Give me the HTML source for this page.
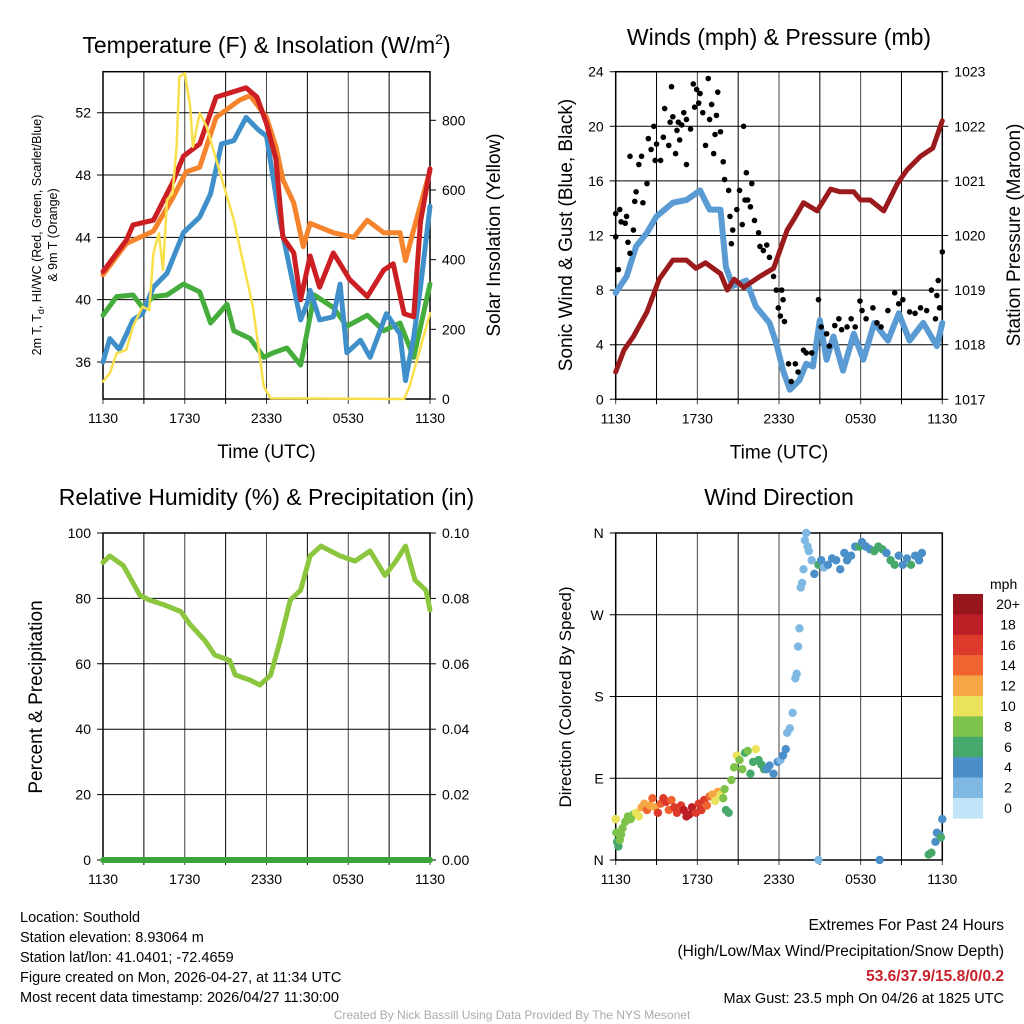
<!DOCTYPE html>
<html><head><meta charset="utf-8"><style>
body{margin:0;background:#fff}
svg{display:block;font-family:"Liberation Sans",sans-serif}
</style></head><body>
<svg id="s" width="1024" height="1024" viewBox="0 0 1024 1024" xmlns="http://www.w3.org/2000/svg">
<rect width="1024" height="1024" fill="#fff"/>
<g id="g"></g>
<g font-size="14.5" fill="#000">
<text x="20" y="922">Location: Southold</text>
<text x="20" y="942">Station elevation: 8.93064 m</text>
<text x="20" y="962">Station lat/lon: 41.0401; -72.4659</text>
<text x="20" y="982">Figure created on Mon, 2026-04-27, at 11:34 UTC</text>
<text x="20" y="1002">Most recent data timestamp: 2026/04/27 11:30:00</text>
</g>
<g font-size="15.5" text-anchor="end">
<text x="1004" y="930">Extremes For Past 24 Hours</text>
<text x="1004" y="956">(High/Low/Max Wind/Precipitation/Snow Depth)</text>
<text x="1004" y="981" fill="#c8202a" font-weight="bold">53.6/37.9/15.8/0/0.2</text>
<text x="1004" y="1003" font-size="14.5">Max Gust: 23.5 mph On 04/26 at 1825 UTC</text>
</g>
<text x="512" y="1019" font-size="12" fill="#aaa" text-anchor="middle">Created By Nick Bassill Using Data Provided By The NYS Mesonet</text>
</svg>
<script>
// ---- Temperature panel data (hours since 1130 UTC) ----
const tRedH=[0,1.7,2.2,3.7,5.1,5.9,7.1,8.3,10.5,11.3,12,12.7,13.2,14,14.5,15.2,15.9,16.9,17.4,18.1,19.4,20.6,21.3,22.1,22.8,23.3,24];
const tRed=[41.8,43.8,44.8,45.1,47.5,49.2,50,53,53.6,53,51.3,49,44,43,40,42.8,40.8,43,42.3,41.3,40.2,41.9,42.3,39.1,38.9,45,48.4];
const tOrH=[0,1.7,3.7,5.1,6.1,7.1,8.3,10,10.8,12,12.7,13.2,14,14.7,15.2,16.9,18.4,19.4,20.6,21.8,22.2,22.8,24];
const tOr=[41.6,43.6,44.4,46.5,48.2,48.5,51.7,52.8,53.1,51.7,49.8,47.7,46.2,43.4,44.9,44.3,44,45.1,44.3,44.3,42.5,44.5,48.3];
const tBlH=[0,0.5,1.2,2.2,2.9,3.7,4.7,5.9,7.1,7.9,8.7,9.6,10.5,11.4,12,13,14.5,15,15.2,15.9,16.9,17.4,17.9,18.9,19.6,20.8,21.8,22.2,22.8,23.3,24];
const tBl=[36,37.5,36.8,38.7,39.1,40.8,41.7,44.3,45.3,46.8,50,50.2,51.7,50.9,50.5,45,38.7,39.8,40.6,38.7,38.9,41,36.6,37.4,36.3,39.1,37.8,34.8,37.6,40.8,46];
const tGrH=[0,1,2.2,2.9,3.7,4.7,5.9,7.1,7.9,9.1,9.6,10.8,11.8,12.5,13.5,14.5,15,15.5,16.9,17.9,19.4,20.6,21.8,22.8,24];
const tGr=[39,40.2,40.3,39.5,40.2,40.3,41,40.5,38.5,39.7,38,37.5,36.3,36.6,36.9,35.8,38,40.3,39.5,38.3,39,38,38.5,36.3,41];
const solH=[0,0.5,1,1.7,2.2,2.9,3.4,3.7,4.1,4.4,4.7,5.1,5.4,5.6,6,6.4,6.6,7.1,7.6,9.6,11,11.8,12.3,22.1,22.5,24];
const solW=[50,74,131,141,208,265,255,418,476,370,572,590,724,925,935,839,724,820,782,514,265,36,2,0,36,246];
// ---- Wind panel ----
const wsH=[0,0.8,1.5,2.3,3,4.2,5.2,6.2,6.9,7.7,8.1,8.6,9.6,10.3,11.3,11.8,12.3,12.8,13.5,14,14.5,15,15.5,16,16.7,17.5,18.2,19,20,20.8,21.6,22.6,23.6,24];
const wsV=[7.8,9,11.2,12.2,13.4,14.4,14.6,15.3,13.9,13.9,9.7,8.3,8.7,6.8,5.6,4.1,2.1,0.7,1.4,2.6,2.4,5.8,2.9,4.6,2.1,4.8,2.9,5.6,4.3,6.3,4.3,5.6,3.9,5.6];
const gH=[0,0,0.2,0.3,0.4,0.7,0.8,0.9,1.05,1.05,1.3,1.4,1.5,1.7,1.9,2,2.3,2.4,2.6,2.8,2.9,3,3.3,3.5,3.6,3.9,4,4.1,4.2,4.4,4.5,4.6,4.7,4.85,5,5.2,5.2,5.5,5.7,5.8,5.95,6.1,6.2,6.4,6.6,6.8,6.9,7.05,7.2,7.3,7.4,7.5,7.7,7.9,8,8.3,8.4,8.5,8.6,8.9,9.1,9.3,9.4,9.5,9.6,9.7,9.9,10,10.2,10.5,10.6,10.85,11.1,11.3,11.6,11.8,11.95,12.1,12.2,12.3,12.4,12.7,12.9,13.2,13.4,13.8,14,14.4,14.9,15.1,15.5,15.7,16.1,16.4,16.6,17,17.3,17.6,17.95,18.1,18.4,18.9,19.2,19.5,20,20.5,20.8,21.1,21.6,22,22.4,22.85,23.2,23.5,23.6,23.7,23.8,24];
const gV=[13.6,11.9,9.5,13.9,13,12.9,13.4,11.5,10.7,17.8,12.4,14.5,15.2,17.2,17.8,14.4,15.8,19.1,18.3,20,17.5,18.7,17.5,19.2,21.3,18.6,20.3,22.9,20.7,18,19.7,20.3,19,20.1,21,20.5,17.2,19.8,23.1,21.4,22.7,21.7,22.4,21,18.6,23.5,20.5,21.6,18,19.4,20.8,22.5,19.6,17.4,16.1,15.3,13.4,11.4,12.4,13.9,15.3,12.8,20,14.6,16.6,14.6,14.1,15.8,13.1,12.2,11.2,10.9,11.3,10.4,9,8,6.7,6.1,8,7.3,5.7,2.6,1.3,2.6,2,3.6,3.4,3.4,7.3,5.3,4.8,3.9,5.4,5.9,5.1,5.3,5.9,5.3,7.2,6.5,5.9,6.7,5.6,5.3,6.5,7.8,7,7.3,6.4,6.3,6.7,6.5,8,5.9,7.6,8.7,6.7,10.8];
const pH=[0,0.6,1.3,2.3,3.2,4.2,5.2,5.9,6.6,7.7,8.2,8.7,9.4,10.6,11.6,12.6,13.1,13.8,14.8,15.8,16.5,17.5,18,18.7,19.7,20.7,21.4,22.4,23.3,24];
const pMb=[1017.5,1017.9,1018.15,1018.6,1019.2,1019.55,1019.55,1019.4,1019.5,1019.3,1019.0,1019.2,1019.05,1019.25,1019.4,1020.1,1020.3,1020.6,1020.45,1020.85,1020.8,1020.8,1020.65,1020.65,1020.45,1020.95,1021.2,1021.45,1021.6,1022.1];
// ---- RH panel ----
const rhH=[0,0.5,1.5,2.7,3.4,4.5,5.7,6.4,7.5,8.2,9.3,9.7,10.8,11.5,12.3,13,13.75,14.5,15.2,16,17.4,18.5,19.6,20.7,21.5,22.2,22.9,23.7,24];
const rhV=[91,93,90,81,79.5,78,76,72,67,62.7,61,56.6,55,53.5,56.5,67,79.5,82.5,93,96,93,91.4,94.5,87,91.4,96,85.6,82.5,76.5];
// ---- Wind direction panel ----
const dH=[0,0.05,0.1,0.2,0.3,0.4,0.5,0.7,0.9,1.1,1.3,1.5,1.7,1.9,2.1,2.3,2.5,2.7,2.9,3.1,3.3,3.5,3.7,3.9,4.1,4.3,4.5,4.8,5.0,5.2,5.4,5.6,5.9,6.1,6.3,6.5,6.7,6.9,7.1,7.3,7.5,7.7,7.9,8.0,8.1,8.3,8.5,8.7,8.9,9.1,9.3,9.5,9.7,9.9,10.1,10.3,10.5,10.7,10.9,11.1,11.3,11.6,11.9,12.1,12.3,12.5,12.6,12.8,13.0,13.2,13.3,13.4,13.5,13.6,13.7,13.8,13.9,14.0,14.1,14.2,14.4,14.6,14.9,15.1,15.3,15.6,15.9,16.2,16.5,16.8,17.0,17.3,17.6,17.9,18.1,18.4,18.7,19.0,19.3,19.6,19.9,20.2,20.5,20.8,21.1,21.4,21.7,22,22.3,22.5,14.9,19.4,23.0,23.2,23.5,23.6,23.8,24,23.9];
const dDir=[45,30,20,15,22,28,35,42,48,45,50,52,48,58,62,55,60,68,58,52,62,68,64,55,66,58,52,60,55,48,50,58,52,62,55,66,60,70,72,65,75,72,68,78,55,52,88,102,115,110,100,118,120,95,108,122,110,105,100,100,104,95,108,110,115,122,140,145,162,200,205,235,255,300,305,320,352,360,345,340,330,315,325,330,322,325,332,330,320,338,330,335,345,345,350,345,342,340,345,342,338,330,325,335,325,332,325,335,330,338,0,0,6,8,20,30,28,45,25];
const dSpd=[10,7,6,6,8,8,8,8,8,7,8,10,10,12,12,13,12,14,11,16,14,15,15,13,14,15,15,16,17,18,18,17,16,15,16,15,14,14,12,10,11,10,8,8,6,6,7,8,10,8,7,6,7,6,6,10,6,5,6,4,4,4,4,2,4,4,2,2,1,2,2,1,1,1,1,1,1,1,2,2,2,4,6,4,2,4,4,4,4,4,4,4,4,6,4,4,4,6,6,6,4,6,6,4,4,4,6,4,4,4,2,4,6,6,4,4,3,4,6];
const cbLabels=['20+','18','16','14','12','10','8','6','4','2','0'];
const cbColors=['#97161b','#bd1e26','#dc3a2b','#ef6430','#f6a645','#e9e25a','#7dc24a','#46a86a','#4a8fc7','#7fb8e2','#bfe4f8'];

const NS='http://www.w3.org/2000/svg';
const G=document.getElementById('g');
function el(tag,attrs,parent,text){const e=document.createElementNS(NS,tag);for(const k in attrs)e.setAttribute(k,attrs[k]);if(text!==undefined)e.textContent=text;(parent||G).appendChild(e);return e;}
function lin(d0,d1,r0,r1){return v=>r0+(v-d0)*(r1-r0)/(d1-d0);}
const xLab=['1130','1730','2330','0530','1130'];

function frame(P,title,ylab,yTicks,yFmt,ry,rTicks,rFmt,rlab,xtitle){
  const g=el('g',{});
  
  
  for(let k=0;k<=8;k++){const x=P.x0+k*(P.x1-P.x0)/8;
    const l=el('line',{x1:x,x2:x,y1:P.y0,y2:P.y1+5,stroke:k%2?'#000':'#444','stroke-width':1},g);
    }
  yTicks.forEach(v=>{const y=P.y(v);
    const l=el('line',{x1:P.x0-6,x2:P.x1,y1:y,y2:y,stroke:'#000','stroke-width':1},g);
    
    const t=el('text',{x:P.x0-12,y:y+5,'font-size':14,'text-anchor':'end'},g,yFmt(v));
    });
  if(rTicks){rTicks.forEach(v=>{const y=ry(v);
    el('line',{x1:P.x1,x2:P.x1+6,y1:y,y2:y,stroke:'#000'},g);
    const t=el('text',{x:P.x1+12,y:y+5,'font-size':14},g,rFmt(v));
    });}
  el('rect',{x:P.x0,y:P.y0,width:P.x1-P.x0,height:P.y1-P.y0,fill:'none',stroke:'#000','stroke-width':1.5},g);
  xLab.forEach((s,i)=>{const t=el('text',{x:P.x0+i*(P.x1-P.x0)/4,y:P.y1+24,'font-size':14,'text-anchor':'middle'},g,s);
    });
  const tt=el('text',{x:(P.x0+P.x1)/2,y:P.ty,'font-size':23,'text-anchor':'middle'},g);tt.innerHTML=title;
  
  if(xtitle){const xt=el('text',{x:(P.x0+P.x1)/2,y:P.y1+59,'font-size':19,'text-anchor':'middle'},g,xtitle);
    }
  return g;
}
function path(xs,ys,fx,fy,color,w,name){let d='';xs.forEach((h,i)=>{d+=(i?'L':'M')+fx(h).toFixed(1)+','+fy(ys[i]).toFixed(1);});
  const p=el('path',{d:d,fill:'none',stroke:color,'stroke-width':w,'stroke-linejoin':'round','stroke-linecap':'round'});
  return p;}

// Panel 1
const P1={x0:103,x1:430,y0:71.7,y1:399,ty:53,name:'temperature-panel'};
P1.y=lin(36,52,362,112.7);const P1r=lin(0,800,399,120.3);const X1=lin(0,24,P1.x0,P1.x1);
frame(P1,'Temperature (F) &amp; Insolation (W/m<tspan dy="-9" font-size="14">2</tspan><tspan dy="9">)</tspan>',null,[36,40,44,48,52],v=>v,P1r,[0,200,400,600,800],v=>v,null,'Time (UTC)');
let t=el('text',{transform:'translate(41,235) rotate(-90)','font-size':12.5,'text-anchor':'middle'});t.innerHTML='2m T, T<tspan dy="3" font-size="9">d</tspan><tspan dy="-3">, HI/WC (Red, Green, Scarlet/Blue)</tspan>';

t=el('text',{transform:'translate(57,235) rotate(-90)','font-size':12.5,'text-anchor':'middle'},G,'& 9m T (Orange)');

t=el('text',{transform:'translate(500,235) rotate(-90)','font-size':19,'text-anchor':'middle'},G,'Solar Insolation (Yellow)');

path(tGrH,tGr,X1,P1.y,'#45ad3c',5,'dewpoint-line');
path(tBlH,tBl,X1,P1.y,'#3f8fca',5,'wind-chill-line');
path(tOrH,tOr,X1,P1.y,'#f5842c',5,'temp-9m-line');
path(tRedH,tRed,X1,P1.y,'#cc1f24',5,'temp-2m-line');
path(solH,solW,X1,P1r,'#f9e04b',2.5,'solar-line');

// Panel 2
const P2={x0:615.7,x1:942.3,y0:71.7,y1:399.3,ty:45,name:'wind-panel'};
P2.y=lin(0,24,399.3,71.7);const P2r=lin(1017,1023,399.3,71.7);const X2=lin(0,24,P2.x0,P2.x1);
frame(P2,'Winds (mph) &amp; Pressure (mb)',null,[0,4,8,12,16,20,24],v=>v,P2r,[1017,1018,1019,1020,1021,1022,1023],v=>v,null,'Time (UTC)');
t=el('text',{transform:'translate(572,235) rotate(-90)','font-size':19,'text-anchor':'middle'},G,'Sonic Wind & Gust (Blue, Black)');

t=el('text',{transform:'translate(1020,235) rotate(-90)','font-size':19,'text-anchor':'middle'},G,'Station Pressure (Maroon)');

path(wsH,wsV,X2,P2.y,'#5a9bd3',6,'sustained-wind-line');
gH.forEach((h,i)=>{const c=el('circle',{cx:X2(h),cy:P2.y(gV[i]),r:2.8,fill:'#000'});
  });
path(pH,pMb,X2,P2r,'#9b1a1c',5,'pressure-line');

// Panel 3
const P3={x0:103,x1:430,y0:533,y1:860,ty:505,name:'humidity-panel'};
P3.y=lin(0,100,860,533);const P3r=lin(0,0.1,860,533);const X3=lin(0,24,P3.x0,P3.x1);
frame(P3,'Relative Humidity (%) &amp; Precipitation (in)',null,[0,20,40,60,80,100],v=>v,P3r,[0,0.02,0.04,0.06,0.08,0.1],v=>v.toFixed(2),null,null);
t=el('text',{transform:'translate(42,697) rotate(-90)','font-size':19,'text-anchor':'middle'},G,'Percent & Precipitation');

path([0,24],[0,0],X3,P3r,'#3aa63a',6,'precip-line');
path(rhH,rhV,X3,P3.y,'#8cc63f',5,'rh-line');

// Panel 4
const P4={x0:615.7,x1:942.3,y0:533,y1:860,ty:505,name:'wind-direction-panel'};
P4.y=lin(0,360,860,533);const X4=lin(0,24,P4.x0,P4.x1);
frame(P4,'Wind Direction',null,[0,90,180,270,360],v=>['N','E','S','W','N'][v/90],null,null,null,null,null);
t=el('text',{transform:'translate(571,697) rotate(-90)','font-size':17,'text-anchor':'middle'},G,'Direction (Colored By Speed)');

function spdColor(s){let b=Math.round(s/2);if(b>10)b=10;return cbColors[10-b];}
dH.forEach((h,i)=>{const c=el('circle',{cx:X4(h),cy:P4.y(dDir[i]),r:4.2,fill:spdColor(dSpd[i])});
  });
// colorbar
const cb=el('g',{});

el('text',{x:990,y:589,'font-size':14},cb,'mph');
cbLabels.forEach((s,i)=>{const y=594+i*20.4;
  el('rect',{x:953,y:y,width:30,height:20.6,fill:cbColors[i]},cb);
  const l=el('text',{x:1008,y:y+15,'font-size':14,'text-anchor':'middle'},cb,s);
  });
</script>
</body></html>
